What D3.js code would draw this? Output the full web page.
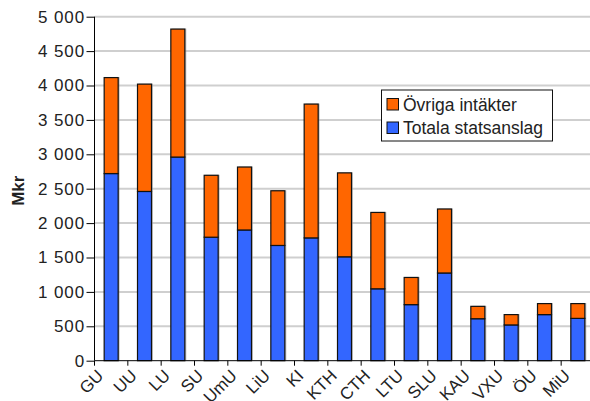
<!DOCTYPE html>
<html><head><meta charset="utf-8">
<script src="https://cdn.jsdelivr.net/npm/d3@7"></script>
<style>body{margin:0;background:#fff}svg{display:block}text{font-family:"Liberation Sans",Arial,Helvetica,sans-serif;fill:#222}</style>
</head><body><svg id="c" width="590" height="401"></svg>
<script>
const categories = ["GU","UU","LU","SU","UmU","LiU","KI","KTH","CTH","LTU","SLU","KAU","VXU","ÖU","MiU"];
const statsanslag = [2720,2460,2960,1795,1900,1675,1785,1510,1045,815,1275,610,520,670,615];
const totals = [4115,4020,4820,2695,2815,2470,3730,2730,2155,1210,2205,790,670,830,830];
const ovriga = totals.map((t,i)=>t-statsanslag[i]);
const yTicks = [0,500,1000,1500,2000,2500,3000,3500,4000,4500,5000];
const seriesNames = ["Övriga intäkter","Totala statsanslag"];
const colors = {"Totala statsanslag":"#3366ff","Övriga intäkter":"#ff6600"};

const svg = d3.select("#c");
const x0 = 94.5, x1 = 594.5, yTop = 16.7, yBot = 360.7;
const x = d3.scaleBand().domain(categories).range([x0,x1]).padding(0);
const y = d3.scaleLinear().domain([0,5000]).range([yBot,yTop]);
const bw = 14;
const fmt = v => d3.format(",")(v).replace(/,/g," ");

// grid
svg.append("g").selectAll("line").data(yTicks.filter(d=>d>0)).join("line")
  .attr("x1",x0).attr("x2",590).attr("y1",d=>y(d)).attr("y2",d=>y(d))
  .attr("stroke","#cfcfcf").attr("stroke-width",2);

// stacked data
const rows = categories.map((c,i)=>({cat:c,"Totala statsanslag":statsanslag[i],"Övriga intäkter":ovriga[i]}));
const stack = d3.stack().keys(["Totala statsanslag","Övriga intäkter"])(rows);

// shadows
svg.append("g").selectAll("rect").data(rows).join("rect")
  .attr("x",d=>x(d.cat)+x.bandwidth()/2-bw/2+1.5)
  .attr("y",(d,i)=>y(totals[i])-0.5)
  .attr("width",bw).attr("height",(d,i)=>y(0)-y(totals[i]))
  .attr("fill","#9a9a9a").attr("opacity",0.6);

const g = svg.append("g");
stack.forEach(s=>{
  g.append("g").selectAll("rect").data(s).join("rect")
   .attr("x",d=>x(d.data.cat)+x.bandwidth()/2-bw/2)
   .attr("y",d=>y(d[1]))
   .attr("width",bw).attr("height",d=>y(d[0])-y(d[1]))
   .attr("fill",colors[s.key]).attr("stroke","#111").attr("stroke-width",1.2);
});

// y axis
const ya = svg.append("g").attr("transform",`translate(${x0},0)`)
  .call(d3.axisLeft(y).tickValues(yTicks).tickFormat(fmt).tickSize(8).tickPadding(1.5));
ya.select(".domain").attr("stroke","#000").attr("d",`M0,${yBot}V${yTop}`);
ya.selectAll(".tick line").attr("stroke","#000");
ya.selectAll(".tick text").attr("font-size",17).attr("fill","#222").attr("letter-spacing","0.9px")
  .attr("font-family","Liberation Sans, Arial, sans-serif");

// x axis
svg.append("line").attr("x1",x0).attr("x2",590).attr("y1",yBot).attr("y2",yBot).attr("stroke","#000");
svg.append("g").selectAll("line").data(categories).join("line")
  .attr("x1",d=>x(d)).attr("x2",d=>x(d)).attr("y1",yBot).attr("y2",yBot+5).attr("stroke","#000");
svg.append("g").selectAll("text").data(categories).join("text")
  .attr("text-anchor","end").attr("font-size",17)
  .attr("transform",d=>`translate(${x(d)+10},${yBot+16}) rotate(-45)`)
  .text(d=>d);

// y title
svg.append("text").attr("transform",`translate(24,${(yTop+yBot)/2+2}) rotate(-90)`)
  .attr("text-anchor","middle").attr("font-size",17).attr("font-weight","bold").attr("fill","#000").text("Mkr");

// legend
const lg = svg.append("g");
lg.append("rect").attr("x",381.5).attr("y",90).attr("width",171).attr("height",51)
  .attr("fill","#fff").attr("stroke","#111").attr("stroke-width",1);
seriesNames.forEach((n,i)=>{
  lg.append("rect").attr("x",387).attr("y",98.5+i*23.5).attr("width",11.5).attr("height",11.5)
    .attr("fill",colors[n]).attr("stroke","#111").attr("stroke-width",1);
  lg.append("text").attr("x",403).attr("y",110.5+i*23.5).attr("font-size",17.5).text(n);
});
</script></body></html>
